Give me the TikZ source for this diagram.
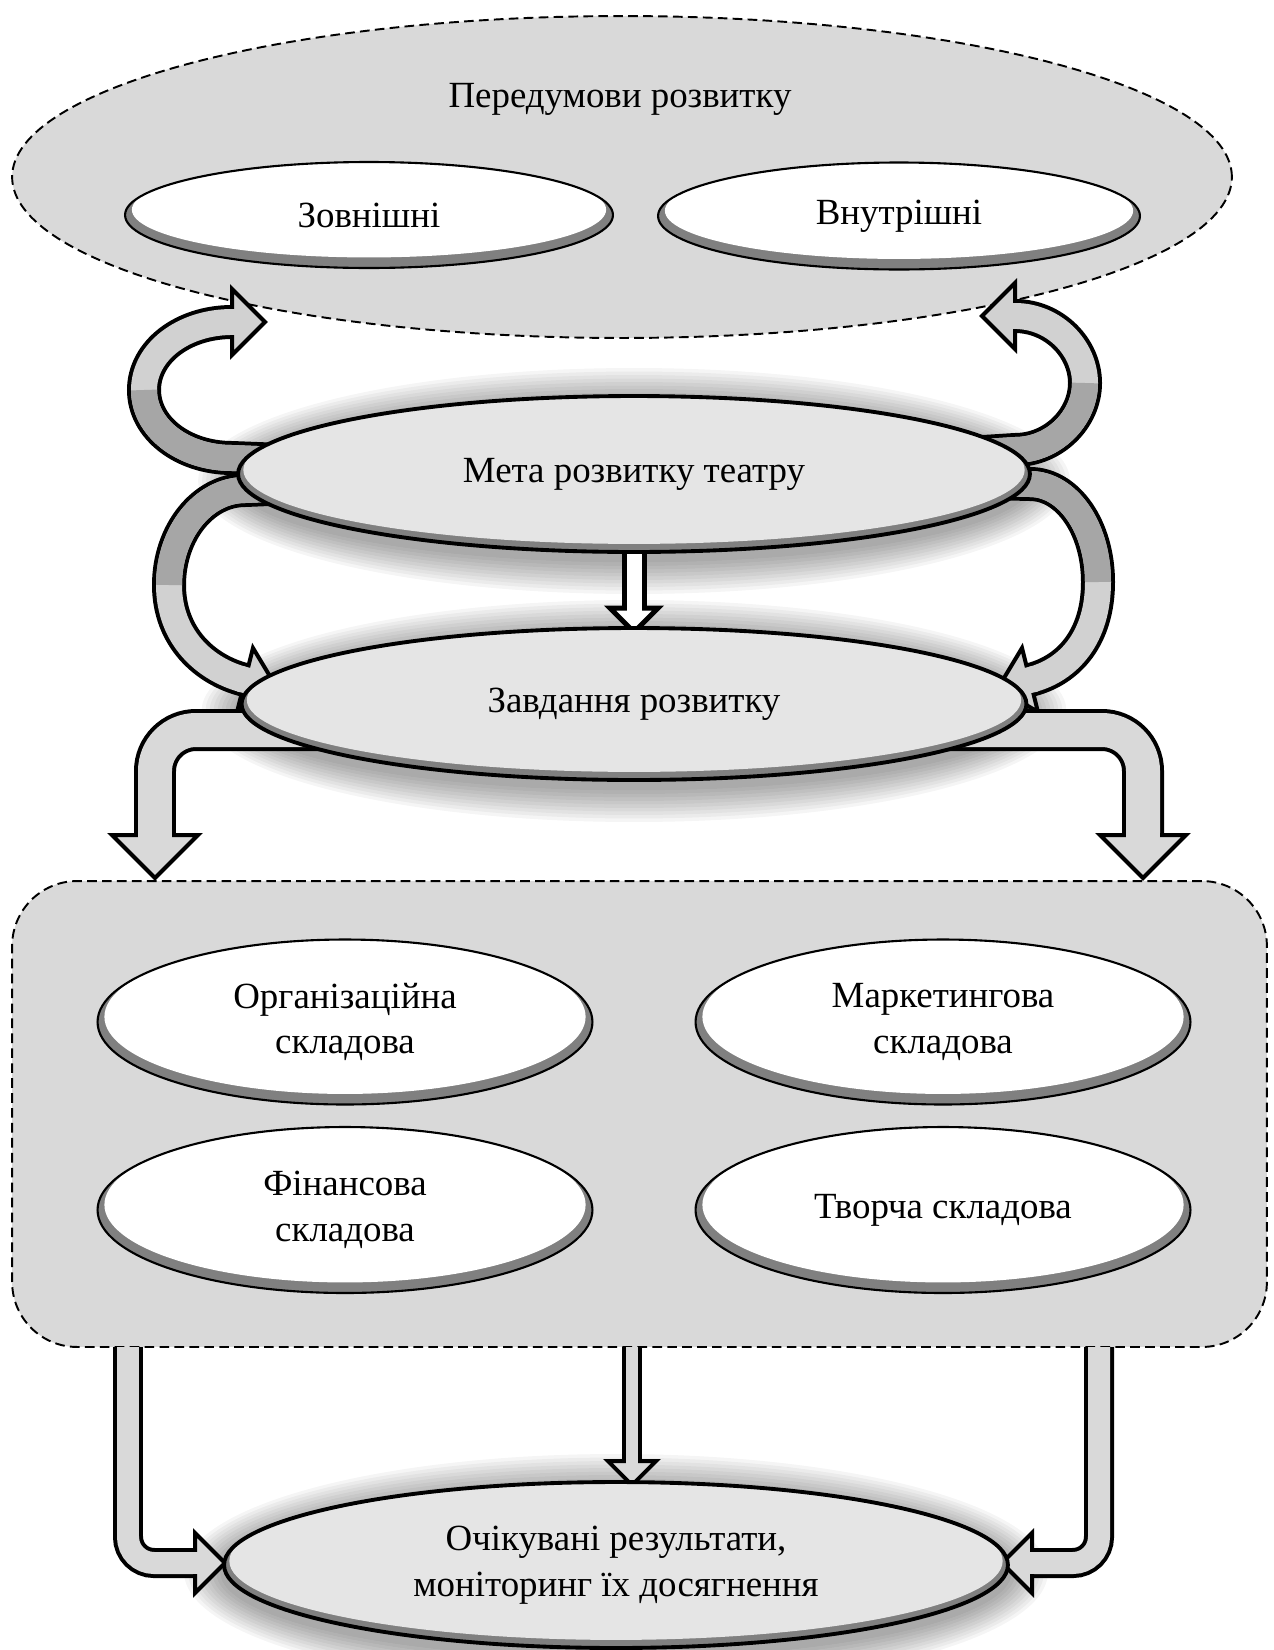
\documentclass[tikz,border=0pt]{standalone}
\usepackage{fontspec}
\setmainfont{Liberation Serif}
\usetikzlibrary{shapes.geometric}
\usetikzlibrary{calc}

\pgfdeclarelayer{back}
\pgfdeclarelayer{mid}
\pgfsetlayers{back,mid,main}

\begin{document}
\begin{tikzpicture}[x=0.02cm, y=-0.02cm,
    every node/.style={font=\fontsize{21}{26}\selectfont},
    glossy/.style n args={3}{ellipse, draw=black, line width=#3, fill=black!50, inner sep=0pt, align=center,
        path picture={\fill[#1] let \p1=(path picture bounding box.north east), \p2=(path picture bounding box.south west) in ([yshift=#2]path picture bounding box.center) ellipse ({(\x1-(\x2))/2-1.3*#2} and {(\y1-(\y2))/2-#2});}},
    bigoval/.style={glossy={black!10}{2.3pt}{2.2pt}},
    smalloval/.style={glossy={white}{3pt}{1.2pt}},
    zone/.style={draw=black, line width=1.1pt, dash pattern=on 5.5pt off 3pt, fill=black!15}]
    \newcommand{\glow}[3]{
        \foreach \g in {1,...,10}{\fill[black,opacity=0.04] ([yshift=-0.14cm]#1.center) ellipse ({#2+\g*0.08cm} and {#3+\g*0.07cm});}
    }
    \newcommand{\blockarrow}[8][]{
        \draw[#1, line width=#3, black] #8;
        \draw[#1, line width=#4, draw=#2] #8;
        \begin{scope}[shift={(#7)}, rotate=#6]
            \draw[line width={(#3-#4)/2}, line join=miter, fill=#2] (0,#5) -- (#5,0) -- (0,-#5) -- cycle;
            \fill[#2] (-0.1cm,{-#4/2}) rectangle (0.06cm,{#4/2});
        \end{scope}
    }
\useasboundingbox (0,0) rectangle (1274,1650);

\begin{pgfonlayer}{back}
\node[zone, ellipse, minimum width=24.4cm, minimum height=6.44cm] (prereq) at (622,177) {};
\node (prereqtitle) at (620,99) {Передумови розвитку};
\node[smalloval, minimum width=9.76cm, minimum height=2.12cm] (outer) at (369,215) {Зовнішні};
\node[smalloval, minimum width=9.64cm, minimum height=2.14cm] (inner) at (899,216) {Внутрішні};

\node[zone, rounded corners=1.3cm, minimum width=25.1cm, minimum height=9.32cm] (comp) at (639.5,1114) {};
\node[smalloval, minimum width=9.9cm, minimum height=3.3cm] (org) at (345,1022) {Організаційна\\складова};
\node[smalloval, minimum width=9.9cm, minimum height=3.3cm] (market) at (943,1022) {Маркетингова\\складова};
\node[smalloval, minimum width=9.9cm, minimum height=3.32cm] (finance) at (345,1210) {Фінансова\\складова};
\node[smalloval, minimum width=9.9cm, minimum height=3.32cm] (creative) at (943,1210) {Творча складова};
\end{pgfonlayer}

\node[bigoval, minimum width=15.84cm, minimum height=3.12cm] (goal) at (634,474) {Мета розвитку театру};
\node[bigoval, minimum width=15.7cm, minimum height=3.04cm] (tasks) at (634,704) {Завдання розвитку};
\node[bigoval, minimum width=15.68cm, minimum height=3.32cm] (results) at (616,1565) {Очікувані результати,\\моніторинг їх досягнення};

\coordinate (goalPL) at (232,322);
\coordinate (goalPR) at (1015,316);
\coordinate (goalTL) at (245,680);
\coordinate (goalTR) at (1030,680);
\coordinate (tasksN) at ([yshift=0.36cm]tasks.north);
\coordinate (tasksL) at (155,835);
\coordinate (tasksR) at (1143,835);
\coordinate (compL) at (128,1347);
\coordinate (compM) at (632,1347);
\coordinate (compR) at (1099,1347);
\coordinate (resultsN) at ($(compM |- results.north)+(0,-19)$);
\coordinate (resultsL) at (195,1563);
\coordinate (resultsR) at (1032,1563);

\begin{pgfonlayer}{mid}
\glow{goal}{7.92cm}{1.56cm}
\glow{tasks}{7.85cm}{1.52cm}
\glow{results}{7.84cm}{1.66cm}

% goal -> prerequisites, goal -> tasks
\blockarrow{black!18}{0.68cm}{0.52cm}{0.66cm}{0}{goalPL}{(goal.center) -- (232,458) .. controls (183,458) and (144,428) .. (144,390) .. controls (144,352) and (183,322) .. (goalPL)}
\draw[line width=0.52cm, black!35] (goal.center) -- (232,458) .. controls (183,458) and (144,428) .. (144,390);
\blockarrow{black!18}{0.68cm}{0.52cm}{0.66cm}{180}{goalPR}{(goal.center) -- (1015,450) .. controls (1054,450) and (1085,418) .. (1085,383) .. controls (1085,348) and (1054,316) .. (goalPR)}
\draw[line width=0.52cm, black!35] (goal.center) -- (1015,450) .. controls (1054,450) and (1085,418) .. (1085,383);
\blockarrow{black!18}{0.68cm}{0.52cm}{0.66cm}{-14}{goalTL}{(goal.center) -- (245,490) .. controls (203,490) and (169,533) .. (169,585) .. controls (169,637) and (205,670) .. (goalTL)}
\draw[line width=0.52cm, black!35] (goal.center) -- (245,490) .. controls (203,490) and (169,533) .. (169,585);
\blockarrow{black!18}{0.68cm}{0.52cm}{0.66cm}{194}{goalTR}{(goal.center) -- (1030,484) .. controls (1068,484) and (1098,528) .. (1098,582) .. controls (1098,636) and (1070,670) .. (goalTR)}
\draw[line width=0.52cm, black!35] (goal.center) -- (1030,484) .. controls (1068,484) and (1098,528) .. (1098,582);
\blockarrow{white}{0.5cm}{0.3cm}{0.48cm}{-90}{tasksN}{(goal.south) -- (tasksN)}

% tasks -> components -> results
\blockarrow[rounded corners=0.82cm]{black!15}{0.84cm}{0.68cm}{0.86cm}{-90}{tasksL}{($(tasks.center)+(-235,26)$) -- (155,730) -- (tasksL)}
\blockarrow[rounded corners=0.82cm]{black!15}{0.84cm}{0.68cm}{0.86cm}{-90}{tasksR}{($(tasks.center)+(235,26)$) -- (1143,730) -- (tasksR)}
\blockarrow{black!15}{0.4cm}{0.24cm}{0.48cm}{-90}{resultsN}{(compM) -- (resultsN)}
\blockarrow[rounded corners=0.52cm]{black!15}{0.6cm}{0.44cm}{0.6cm}{0}{resultsL}{(compL) -- (128,1563) -- (resultsL)}
\blockarrow[rounded corners=0.52cm]{black!15}{0.6cm}{0.44cm}{0.6cm}{180}{resultsR}{(compR) -- (1099,1563) -- (resultsR)}
\end{pgfonlayer}

\end{tikzpicture}
\end{document}
